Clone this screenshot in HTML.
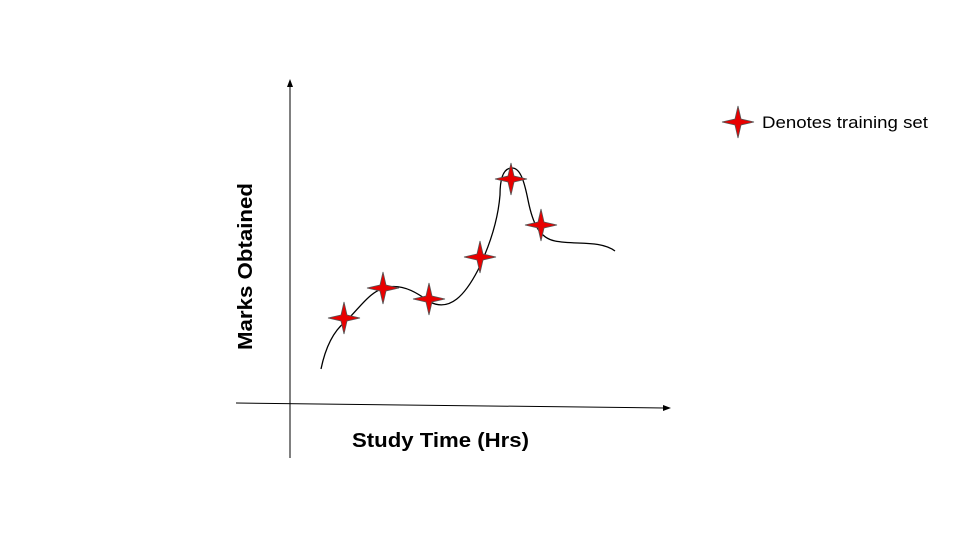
<!DOCTYPE html>
<html><head><style>body{margin:0;background:#fff}svg{display:block}</style></head><body>
<svg width="960" height="540" xmlns="http://www.w3.org/2000/svg">
<defs>
<path id="st" d="M0,-16 L3,-3 L16,0 L3,3 L0,16 L-3,3 L-16,0 L-3,-3 Z" fill="#e80000" stroke="#555" stroke-width="0.8"/>
</defs>
<line x1="290" y1="458" x2="290" y2="86" stroke="#000" stroke-width="1"/>
<polygon points="290,79 287,87 293,87" fill="#000"/>
<line x1="236" y1="403" x2="664" y2="408" stroke="#000" stroke-width="1"/>
<polygon points="671,408 663,405 663,411" fill="#000"/>
<path d="M321,369 C326,345 335,330 345,322 C360,308 370,290 388,287 C405,284 420,295 430,302 C450,312 465,295 478,270 C490,245 498,220 500,195 C500,175 505,168 512,168 C520,168 524,180 528,200 C533,225 540,238 555,241 C575,245 600,240 615,251" fill="none" stroke="#000" stroke-width="1.3"/>
<use href="#st" x="344" y="318"/>
<use href="#st" x="383" y="288"/>
<use href="#st" x="429" y="299"/>
<use href="#st" x="480" y="257"/>
<use href="#st" x="511" y="179"/>
<use href="#st" x="541" y="225"/>
<use href="#st" x="738" y="122"/>
<text x="762" y="128" font-family="Liberation Sans, sans-serif" font-size="17" textLength="166" lengthAdjust="spacingAndGlyphs" fill="#000">Denotes training set</text>
<text x="352" y="447" font-family="Liberation Sans, sans-serif" font-size="20" font-weight="bold" textLength="177" lengthAdjust="spacingAndGlyphs" fill="#000">Study Time (Hrs)</text>
<text transform="translate(252,350) rotate(-90)" font-family="Liberation Sans, sans-serif" font-size="20" font-weight="bold" textLength="167" lengthAdjust="spacingAndGlyphs" fill="#000">Marks Obtained</text>
</svg>
</body></html>
